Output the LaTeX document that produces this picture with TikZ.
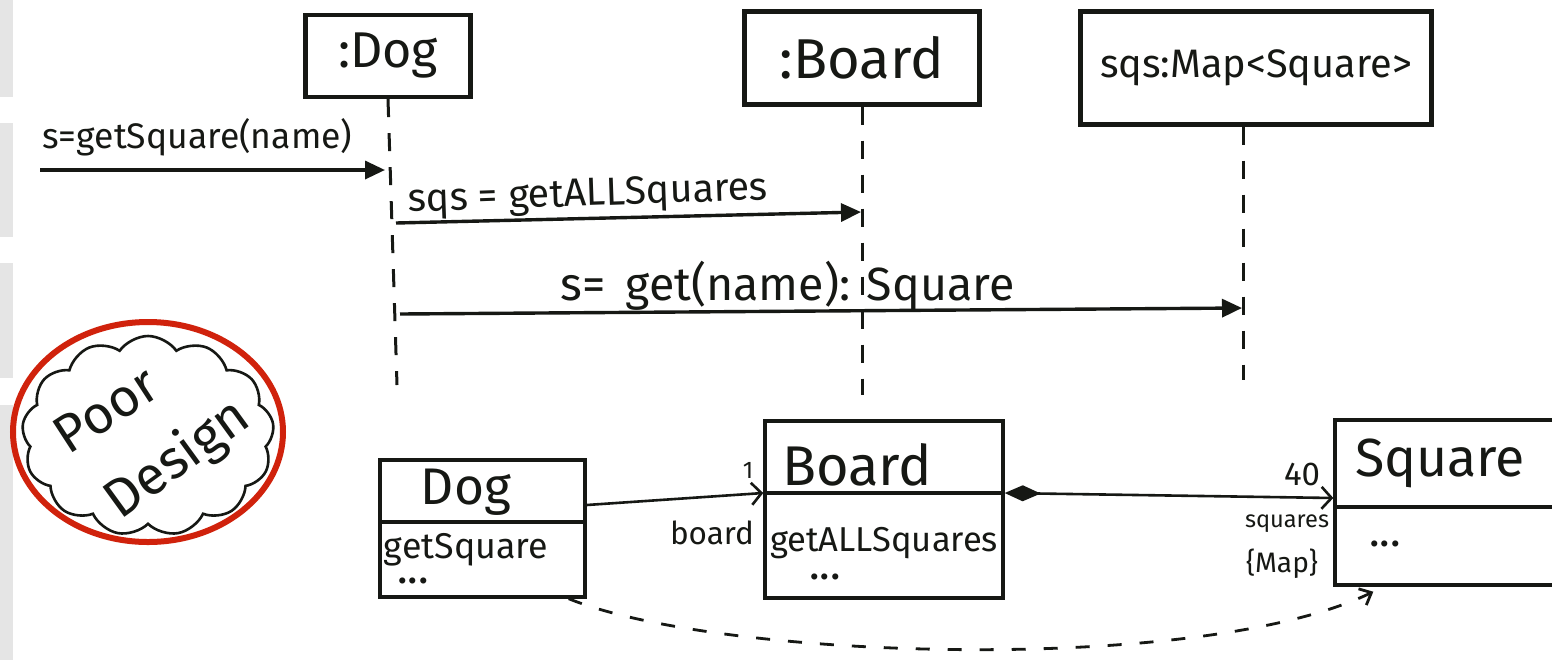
\documentclass[tikz,border=0pt]{standalone}
\usepackage{fontspec}
\setmainfont{Fira Sans}
\usetikzlibrary{arrows.meta,shapes.symbols,shapes.geometric,calc}
\definecolor{ink}{RGB}{22,24,20}
\definecolor{stamp}{RGB}{208,34,12}
\definecolor{strip}{RGB}{229,229,229}
% scale a label to a given width
\newcommand{\hand}[2]{\resizebox{#1}{!}{#2}}
\newcommand{\ellip}{\fontsize{22pt}{22pt}\selectfont ...}
\begin{document}
\begin{tikzpicture}[x=0.5pt,y=-0.5pt,
  obj/.style={draw=ink, line width=2.2pt, inner sep=0pt, text=ink},
  cls/.style={draw=ink, line width=1.7pt, inner sep=0pt},
  life/.style={draw=ink, line width=1.5pt, dash pattern=on 9pt off 8pt},
  msg/.style={draw=ink, line width=1.7pt, -{Triangle[length=10pt,width=9pt]}},
  assoc/.style={draw=ink, line width=1.3pt, -{Straight Barb[length=5pt,width=11pt]}},
  dep/.style={draw=ink, line width=1.4pt, dash pattern=on 7pt off 9pt, -{Straight Barb[length=5pt,width=9pt]}},
  lbl/.style={text=ink, inner sep=0pt},
]
\fill[white] (0,0) rectangle (1552,660);
\useasboundingbox (0,0) rectangle (1552,660);
\clip (0,0) rectangle (1552,660);

% paper edge strips
\fill[strip] (0,0) rectangle (13,97);
\fill[strip] (0,123) rectangle (13,237);
\fill[strip] (0,263) rectangle (13,378);
\fill[strip] (0,405) rectangle (13,660);

% ---- sequence diagram: participants
\node[obj, minimum width=82.5pt, minimum height=41pt] (dogObj) at (388,56) {\hand{50pt}{:Dog}};
\node[obj, minimum width=117.5pt, minimum height=46.5pt] (boardObj) at (862,58) {\hand{82pt}{:Board}};
\node[obj, minimum width=175.5pt, minimum height=56.5pt] (mapObj) at (1256,68) {\hand{156pt}{sqs:Map<Square>}};

% lifeline ends
\coordinate (dogEnd) at (397,385);
\coordinate (boardEnd) at (862,395);
\coordinate (mapEnd) at (1243,380);
\draw[life] (dogObj.south) -- (dogEnd);
\draw[life] (boardObj.south) -- (boardEnd);
\draw[life] (mapObj.south -| mapEnd) -- (mapEnd);

% ---- messages
\coordinate (caller) at (40,170);
\coordinate (dogIn) at (385,170);
\coordinate (dogOut1) at (396,223);
\coordinate (boardIn) at (861,212);
\coordinate (dogOut2) at (400,314);
\coordinate (mapIn) at (1242,308);

\draw[msg] (caller) -- (dogIn);
\node[lbl, anchor=base west] (m1) at (42,148) {\hand{155pt}{s=getSquare(name)}};

\draw[msg] (dogOut1) -- (boardIn);
\node[lbl, anchor=base west, rotate=2] (m2) at (408,212) {\hand{180pt}{sqs = getALLSquares}};

\draw[msg] (dogOut2) -- (mapIn);
\node[lbl, anchor=base west] (m3) at (560,300) {\hand{227pt}{s=\, get(name): Square}};

% ---- note
\node[cloud, draw=ink, line width=1.3pt, cloud puffs=13, cloud puff arc=110,
      cloud ignores aspect, minimum width=126pt, minimum height=100pt] (cloud) at (148,436) {};
\node[lbl, rotate=33] (poor) at (106,410) {\hand{56pt}{Poor}};
\node[lbl, rotate=36] (design) at (178,460) {\hand{82pt}{Design}};
\node[ellipse, draw=stamp, line width=3pt, minimum width=135pt, minimum height=110pt] (ring) at (148,432) {};

% ---- class diagram
\node[cls, minimum width=102.5pt, minimum height=68.5pt] (dog) at (482.5,528.5) {};
\draw[cls] (dog.west |- 0,522) -- (dog.east |- 0,522);
\node[lbl] (dogName) at (466,492) {\hand{45pt}{Dog}};
\node[lbl] (dogOps) at (466,550) {\hand{82pt}{getSquare}};
\node[lbl] (dogMore) at (413,581) {\ellip};

\node[cls, minimum width=119pt, minimum height=88.5pt] (board) at (884,509.5) {};
\draw[cls] (board.west |- 0,493) -- (board.east |- 0,493);
\node[lbl] (boardName) at (857,465) {\hand{75pt}{Board}};
\node[lbl] (boardOps) at (884,543) {\hand{114pt}{getALLSquares}};
\node[lbl] (boardMore) at (825,577) {\ellip};

\node[cls, minimum width=132.5pt, minimum height=82.5pt] (square) at (1467.5,502.5) {};
\draw[cls] (square.west |- 0,507) -- (square.east |- 0,507);
\node[lbl] (squareName) at (1440,463) {\hand{85pt}{Square}};
\node[lbl] (squareMore) at (1385,544) {\ellip};

% associations
\draw[assoc] (dog.east |- 0,505) -- (board.west |- 0,493);
\node[lbl] (oneLbl) at (748,470) {\fontsize{12pt}{12pt}\selectfont 1};
\node[lbl] (boardRole) at (712,533) {\hand{42pt}{board}};

\draw[line width=1.3pt, draw=ink, {Diamond[length=18pt,width=8pt,fill=ink]}-{Straight Barb[length=5pt,width=11pt]}]
  (board.east |- 0,493) -- (square.west |- 0,498);
\node[lbl] (mult) at (1302,474) {\hand{18pt}{40}};
\node[lbl] (sqRole) at (1287,524) {\hand{42pt}{squares}};
\node[lbl] (sqKind) at (1282,564) {\hand{36pt}{\{Map\}}};

% dependency
\draw[dep] ($(dog.south east)+(-18,0)$) .. controls (720,660) and (1200,675) .. ($(square.south west)+(40,5)$);
\end{tikzpicture}
\end{document}
